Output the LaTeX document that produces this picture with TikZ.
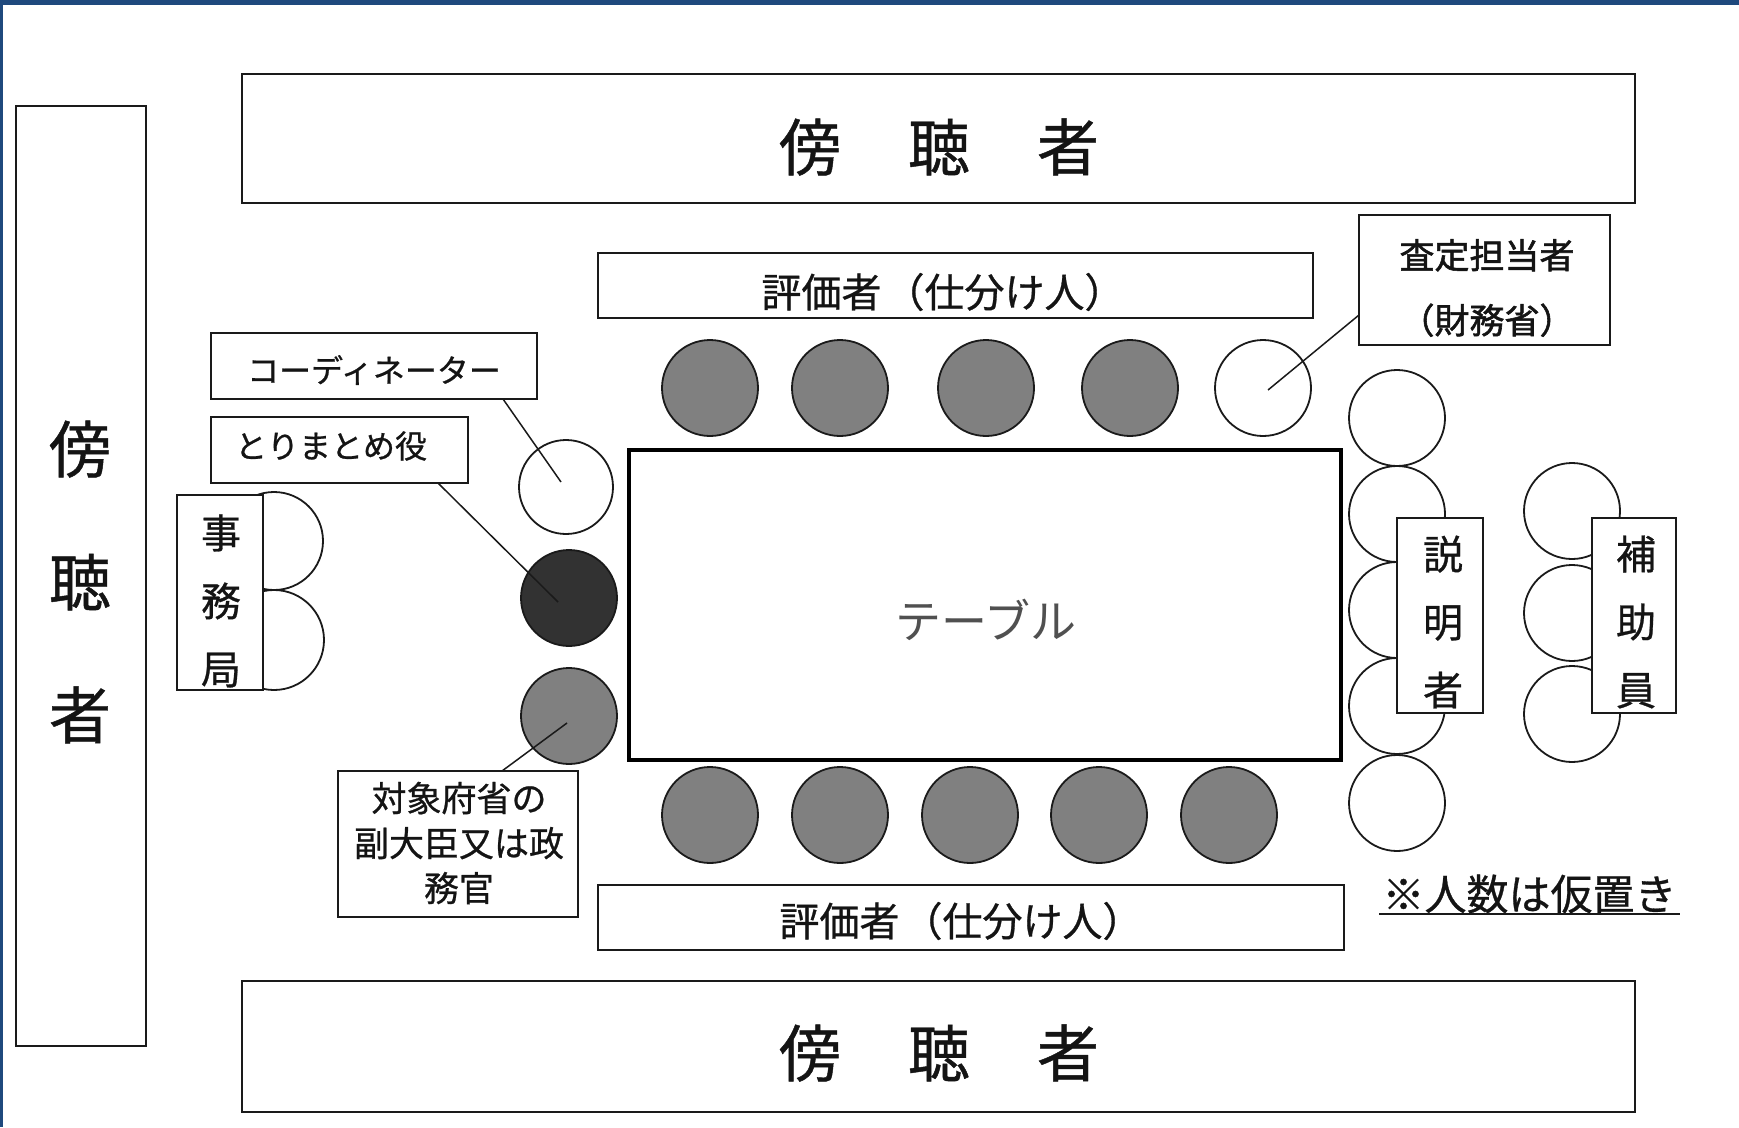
\documentclass[tikz,border=0pt]{standalone}
\usepackage{fontspec}
\setmainfont{Noto Sans CJK JP}[FakeBold=0.7]
\newfontfamily\plainjp{Noto Sans CJK JP}
\newfontfamily\heavyjp{Noto Sans CJK JP}[FakeBold=1.6]
\definecolor{frameblue}{RGB}{31,73,125}
\definecolor{linec}{RGB}{26,26,26}
\definecolor{textc}{RGB}{20,20,20}
\definecolor{seatgray}{RGB}{128,128,128}
\definecolor{seatdark}{RGB}{50,50,50}
\definecolor{tablegray}{RGB}{80,80,80}
\newcommand{\setfs}[2]{\fontsize{#1}{#2}\selectfont}
\begin{document}
\begin{tikzpicture}[x=1pt,y=-1pt,
  box/.style={rectangle, draw=linec, line width=2.2pt, fill=white, inner sep=0pt},
  tablebox/.style={rectangle, draw=black, line width=4pt, fill=white, inner sep=0pt},
  seat/.style={circle, draw=linec, line width=1.8pt, minimum size=96pt, inner sep=0pt},
  greyseat/.style={seat, fill=seatgray},
  darkseat/.style={seat, fill=seatdark},
  whiteseat/.style={seat, fill=white},
  lead/.style={draw=linec, line width=1.5pt},
  txt/.style={inner sep=0pt, text=textc, align=center}
]
\useasboundingbox (0,0) rectangle (1739,1127);
\fill[white] (0,0) rectangle (1739,1127);
\fill[frameblue] (0,0) rectangle (1739,5);
\fill[frameblue] (0,0) rectangle (2.5,1127);

% audience boxes
\node[box, minimum width=1393pt, minimum height=129pt] (audtop) at (938.5,138.5) {};
\node[txt, font=\setfs{62}{74}] (audtoptxt) at (939,147) {傍\hspace{67pt}聴\hspace{67pt}者};
\node[box, minimum width=1393pt, minimum height=131pt] (audbot) at (938.5,1046.5) {};
\node[txt, font=\setfs{62}{74}] (audbottxt) at (939,1053) {傍\hspace{67pt}聴\hspace{67pt}者};
\node[box, minimum width=130pt, minimum height=940pt] (audleft) at (81,576) {};
\node[txt, font=\setfs{62}{133}] (audlefttxt) at (80,582) {傍\\聴\\者};

% evaluators labels
\node[box, minimum width=715pt, minimum height=65pt] (evaltop) at (955.5,285.5) {};
\node[txt, font=\setfs{40}{48}] (evaltoptxt) at (943,292) {評価者\hspace{3pt}（仕分け人）};
\node[box, minimum width=746pt, minimum height=65pt] (evalbot) at (971,917.5) {};
\node[txt, font=\setfs{40}{48}] (evalbottxt) at (961,921) {評価者\hspace{3pt}（仕分け人）};

% table
\node[tablebox, minimum width=712pt, minimum height=310pt] (table) at (985,605) {};
\node[txt, text=tablegray, font=\plainjp\setfs{46}{56}] (tabletxt) at (986,620) {テーブル};

% top seats
\node[greyseat] (t1) at (710,388) {};
\node[greyseat] (t2) at (840,388) {};
\node[greyseat] (t3) at (986,388) {};
\node[greyseat] (t4) at (1130,388) {};
\node[whiteseat] (t5) at (1263,388) {};
% bottom seats
\node[greyseat] (b1) at (710,815) {};
\node[greyseat] (b2) at (840,815) {};
\node[greyseat] (b3) at (970,815) {};
\node[greyseat] (b4) at (1099,815) {};
\node[greyseat] (b5) at (1229,815) {};

% left seats
\node[whiteseat, minimum size=94pt] (coordseat) at (566,487) {};
\node[darkseat] (chairseat) at (569,598) {};
\node[greyseat] (viceseat) at (569,716) {};

% labels left
\node[box, minimum width=326pt, minimum height=66pt] (coordbox) at (374,366) {};
\node[txt, font=\setfs{32}{40}] (coordtxt) at (374,370) {コーディネーター};
\node[box, minimum width=257pt, minimum height=66pt] (toribox) at (339.5,450) {};
\node[txt, font=\setfs{32}{40}] (toritxt) at (331,446) {とりまとめ役};

% secretariat
\node[seat, minimum size=98pt] (sec1) at (274,541) {};
\node[seat, minimum size=100pt] (sec2) at (274,640) {};
\node[box, minimum width=86pt, minimum height=195pt] (secbox) at (220,592.5) {};
\node[txt, font=\setfs{40}{68}] (sectxt) at (221,601) {事\\務\\局};

% vice minister label
\node[box, minimum width=240pt, minimum height=146pt] (vicebox) at (458,844) {};
\node[txt, font=\setfs{35}{45}] (vicetxt) at (459,843) {対象府省の\\副大臣又は政\\務官};

% assessor label
\node[box, minimum width=251pt, minimum height=130pt] (sateibox) at (1484.5,280) {};
\node[txt, font=\heavyjp\setfs{35}{65}] (sateitxt) at (1487,288) {査定担当者\\（財務省）};

% explainers
\node[seat] (e1) at (1397,418) {};
\node[seat] (e2) at (1397,514) {};
\node[seat] (e3) at (1397,610) {};
\node[seat] (e4) at (1397,706) {};
\node[seat] (e5) at (1397,803) {};
\node[box, minimum width=86pt, minimum height=195pt] (explbox) at (1440,615.5) {};
\node[txt, font=\setfs{40}{68}] (expltxt) at (1443,622) {説\\明\\者};

% assistants
\node[seat] (a1) at (1572,511) {};
\node[seat] (a2) at (1572,613) {};
\node[seat] (a3) at (1572,714) {};
\node[box, minimum width=84pt, minimum height=195pt] (assibox) at (1634,615.5) {};
\node[txt, font=\setfs{40}{68}] (assitxt) at (1636,622) {補\\助\\員};

% note
\node[txt, font=\setfs{42}{50}, inner xsep=3pt, inner ysep=0pt] (note) at (1529.5,894) {※人数は仮置き};
\draw[draw=linec, line width=2pt] (note.south west) -- (note.south east);

% leader lines
\coordinate (lc1) at (503,399);
\coordinate (lc2) at (561,482);
\draw[lead] (lc1) -- (lc2);
\coordinate (lt1) at (438,483);
\coordinate (lt2) at (558,602);
\draw[lead] (lt1) -- (lt2);
\coordinate (lv1) at (502,771);
\coordinate (lv2) at (567,723);
\draw[lead] (lv1) -- (lv2);
\coordinate (ls1) at (1359,315);
\coordinate (ls2) at (1268,390);
\draw[lead] (ls1) -- (ls2);
\end{tikzpicture}
\end{document}
